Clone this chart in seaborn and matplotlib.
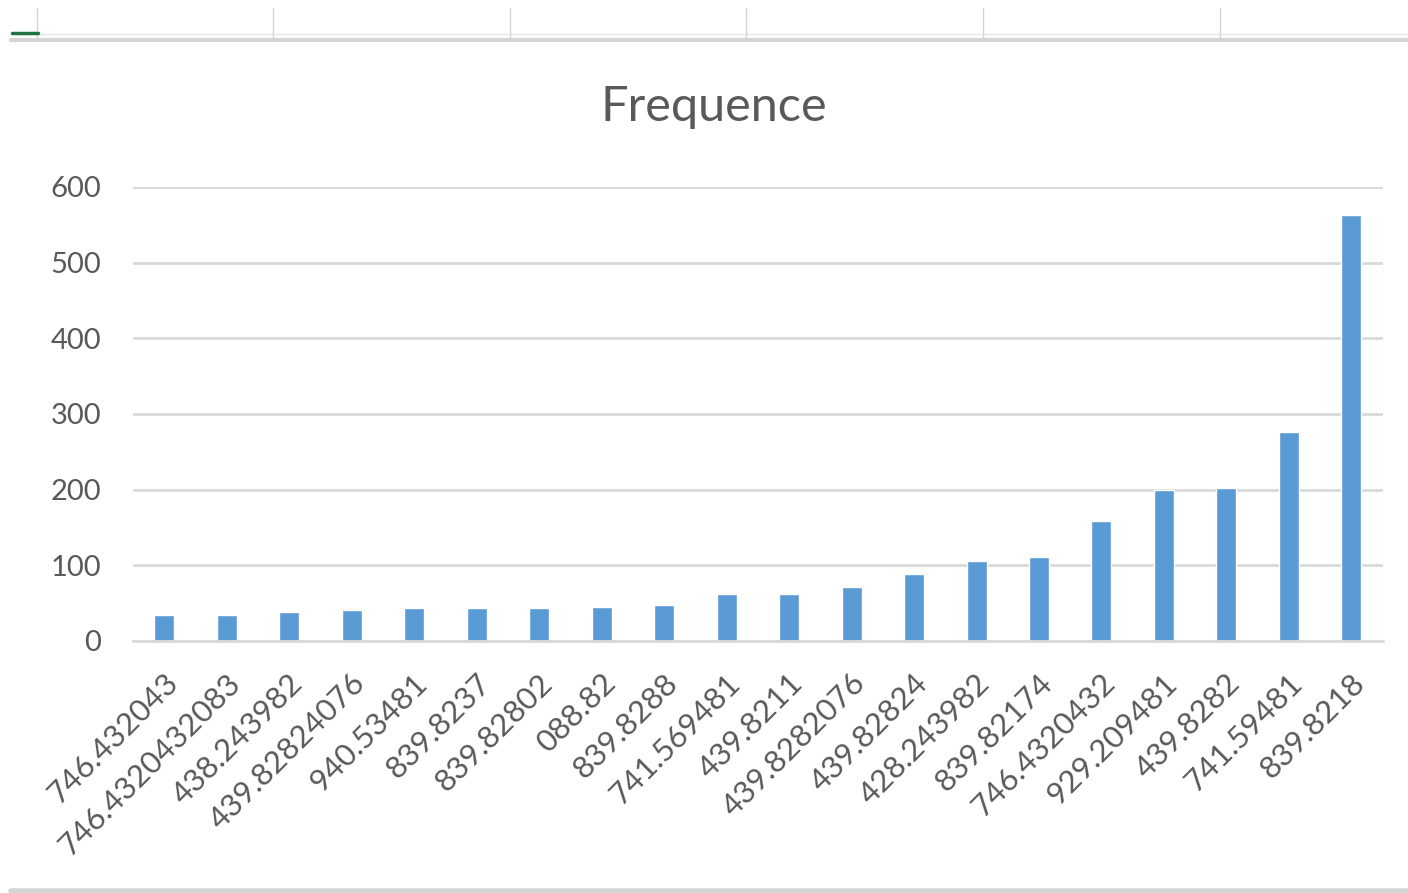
import pandas as pd
import matplotlib.pyplot as plt
import seaborn as sns
from matplotlib.lines import Line2D
from matplotlib.transforms import ScaledTranslation

# values
categories = ['746.432043', '746.4320432083', '438.243982', '439.82824076',
              '940.53481', '839.8237', '839.82802', '088.82', '839.8288',
              '741.569481', '439.8211', '439.8282076', '439.82824',
              '428.243982', '839.82174', '746.4320432', '929.209481',
              '439.8282', '741.59481', '839.8218']
frequence = [35, 35, 38, 41, 43, 43, 43, 45, 48, 62, 62, 71, 88, 106, 111,
             158, 199, 202, 276, 563]
y_ticks = [0, 100, 200, 300, 400, 500, 600]

df = pd.DataFrame({'label': categories, 'freq': frequence})

sns.set_style("white")
plt.rcParams['font.family'] = ['Lato', 'DejaVu Sans']

fig = plt.figure(figsize=(14.08, 8.93), dpi=100)
ax = fig.add_axes([0.0945, 0.2822, 0.8875, 0.5084])

sns.barplot(data=df, x='label', y='freq', order=categories, color='#5B9BD5',
            width=0.32, saturation=1, ax=ax)

ax.set_ylim(0, 600)
ax.set_xlim(-0.5, len(categories) - 0.5)
ax.set_yticks(y_ticks)
ax.yaxis.grid(True, color='#D9D9D9', linewidth=2)
ax.set_axisbelow(True)
for s in ['top', 'right', 'left']:
    ax.spines[s].set_visible(False)
ax.spines['bottom'].set_color('#D9D9D9')
ax.spines['bottom'].set_linewidth(2)
ax.set_xlabel('')
ax.set_ylabel('')
ax.tick_params(axis='y', length=0, colors='#595959', labelsize=21, pad=23)
ax.tick_params(axis='x', length=0, colors='#595959', labelsize=22.5, pad=27)
shift = ScaledTranslation(9 / 100, 0, fig.dpi_scale_trans)
for lbl in ax.get_xticklabels():
    lbl.set_rotation(45)
    lbl.set_rotation_mode('anchor')
    lbl.set_ha('right')
    lbl.set_va('center')
    lbl.set_transform(lbl.get_transform() + shift)

fig.text(0.507, 1 - 107 / 893, 'Frequence', ha='center', va='center',
         fontsize=35, color='#595959')

# spreadsheet grid visible around the chart
grey = '#D4D4D4'
fig.add_artist(Line2D([0.008, 1.0], [1 - 40 / 893, 1 - 40 / 893], color=grey, lw=3))
fig.add_artist(Line2D([0.008, 1.0], [1 - 34 / 893, 1 - 34 / 893], color='#E6E6E6', lw=1))
for xp in [37, 273, 510, 746, 983, 1220]:
    fig.add_artist(Line2D([xp / 1408, xp / 1408], [1 - 8 / 893, 1 - 40 / 893],
                          color=grey, lw=1))
fig.add_artist(Line2D([12 / 1408, 38 / 1408], [1 - 33 / 893, 1 - 33 / 893],
                      color='#217346', lw=2.5))
fig.add_artist(Line2D([0.008, 1.0], [2 / 893, 2 / 893], color=grey, lw=4))

plt.savefig('out.png', dpi=100)
